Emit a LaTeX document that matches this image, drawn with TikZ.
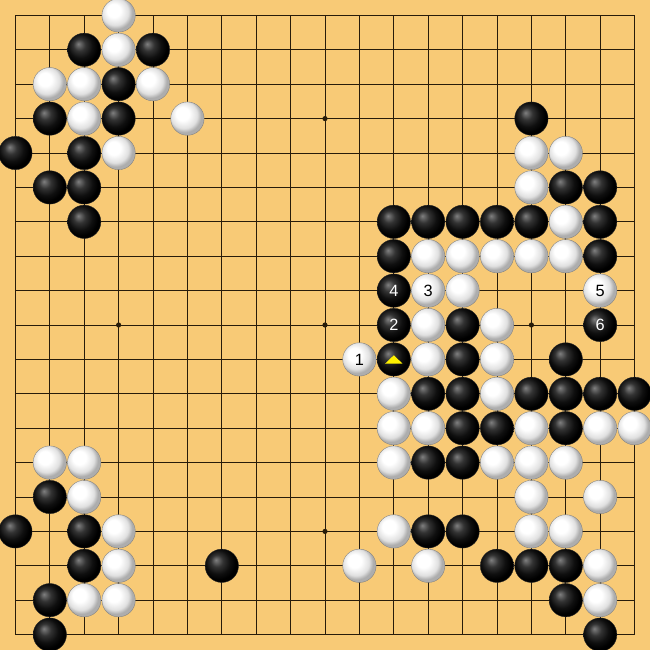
\documentclass[tikz,border=0pt]{standalone}
\usepackage{fontspec}
\setmainfont{Liberation Sans}

\definecolor{board}{RGB}{248,202,118}
\definecolor{gridline}{RGB}{40,28,10}
\pgfdeclareradialshading{blackstone}{\pgfpoint{-9bp}{9bp}}{color(0bp)=(black!50); color(9bp)=(black!80); color(18bp)=(black!94); color(25bp)=(black); color(50bp)=(black)}
\pgfdeclareradialshading{whitestone}{\pgfpoint{-9bp}{9bp}}{color(0bp)=(white); color(10bp)=(white); color(20bp)=(black!12); color(25bp)=(black!32); color(50bp)=(black!32)}

\tikzset{
  bstone/.style={shading=blackstone, draw=black!85, line width=0.3pt},
  wstone/.style={shading=whitestone, draw=black!50, line width=0.3pt},
  movenum/.style={font=\fontsize{13.5}{16}\selectfont, inner sep=0pt},
}

\begin{document}
\begin{tikzpicture}[x=1cm,y=-1cm]
            % board
            \useasboundingbox (-0.448,-0.448) rectangle (18.448,18.448);
            \fill[board] (-0.448,-0.448) rectangle (18.448,18.448);
            \foreach \i in {0,...,18} {
              \draw[gridline, line width=0.8pt] (\i,0) -- (\i,18);
              \draw[gridline, line width=0.8pt] (0,\i) -- (18,\i);
            }
            % star points
            \foreach \c in {3,9,15}
              \foreach \r in {3,9,15}
                \fill[gridline] (\c,\r) circle (0.075);
            % black stones
            \foreach \c/\r in {2/1,4/1,3/2,1/3,3/3,0/4,2/4,1/5,2/5,2/6,
                15/3,16/5,17/5,11/6,12/6,13/6,14/6,15/6,17/6,11/7,17/7,
                13/9,11/10,13/10,16/10,12/11,13/11,15/11,16/11,17/11,18/11,
                13/12,14/12,16/12,12/13,13/13,12/15,13/15,14/16,15/16,16/16,
                16/17,17/18,1/14,0/15,2/15,2/16,6/16,1/17,1/18,
                11/8,11/9,17/9}
              \path[bstone] (\c,\r) circle (0.485);
            % white stones
            \foreach \c/\r in {3/0,3/1,1/2,2/2,4/2,2/3,5/3,3/4,
                15/4,16/4,15/5,16/6,12/7,13/7,14/7,15/7,16/7,13/8,
                12/9,14/9,12/10,14/10,11/11,14/11,11/12,12/12,15/12,17/12,18/12,
                11/13,14/13,15/13,16/13,15/14,17/14,11/15,15/15,16/15,
                10/16,12/16,17/16,17/17,1/13,2/13,2/14,3/15,3/16,2/17,3/17,
                12/8,17/8,10/10}
              \path[wstone] (\c,\r) circle (0.485);
            % move numbers
            \node[movenum] (m1) at (10,10) {1};
            \node[movenum, text=white] (m2) at (11,9) {2};
            \node[movenum] (m3) at (12,8) {3};
            \node[movenum, text=white] (m4) at (11,8) {4};
            \node[movenum] (m5) at (17,8) {5};
            \node[movenum, text=white] (m6) at (17,9) {6};
            % last move mark
            \fill[yellow] (10.75,10.12) -- (11.25,10.12) -- (11,9.88) -- cycle;
        \end{tikzpicture}
\end{document}
